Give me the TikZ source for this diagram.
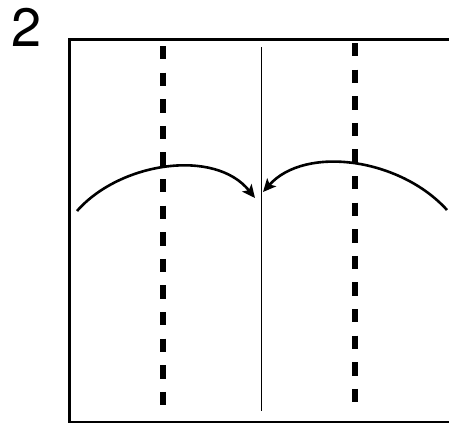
\documentclass[tikz,border=0pt]{standalone}
\usepackage{fontspec}
\setmainfont{TeX Gyre Heros}
\usetikzlibrary{arrows.meta}

\begin{document}
\begin{tikzpicture}[x=1pt,y=-1pt,
  edgeline/.style={line width=2.3pt},
  foldline/.style={line width=5.5pt,dash pattern=on 13.3pt off 13.3pt},
  midline/.style={line width=1.1pt},
  turnarrow/.style={line width=2.6pt,-{Stealth[length=13pt,width=12pt,inset=3pt]}}]
\useasboundingbox (0,0) rectangle (449,426);
\node(num)[anchor=base,inner sep=0pt,font=\fontsize{54}{54}\selectfont] at (26.5,46){2};
\draw[edgeline](449,39.5)--(69.5,39.5)--(69.5,422)--(449,422);
\draw[foldline](163,46)--(163,406);
\draw[foldline](355,43)--(355,403);
\draw[midline](261.5,47)--(261.5,411);
\coordinate(la) at (77,211);
\coordinate(lb) at (255,198);
\coordinate(ra) at (447,210);
\coordinate(rb) at (263,192);
\draw[turnarrow](la)..controls(120,162)and(215,148)..(lb);
\draw[turnarrow](ra)..controls(400,158)and(305,145)..(rb);
\end{tikzpicture}
\end{document}
